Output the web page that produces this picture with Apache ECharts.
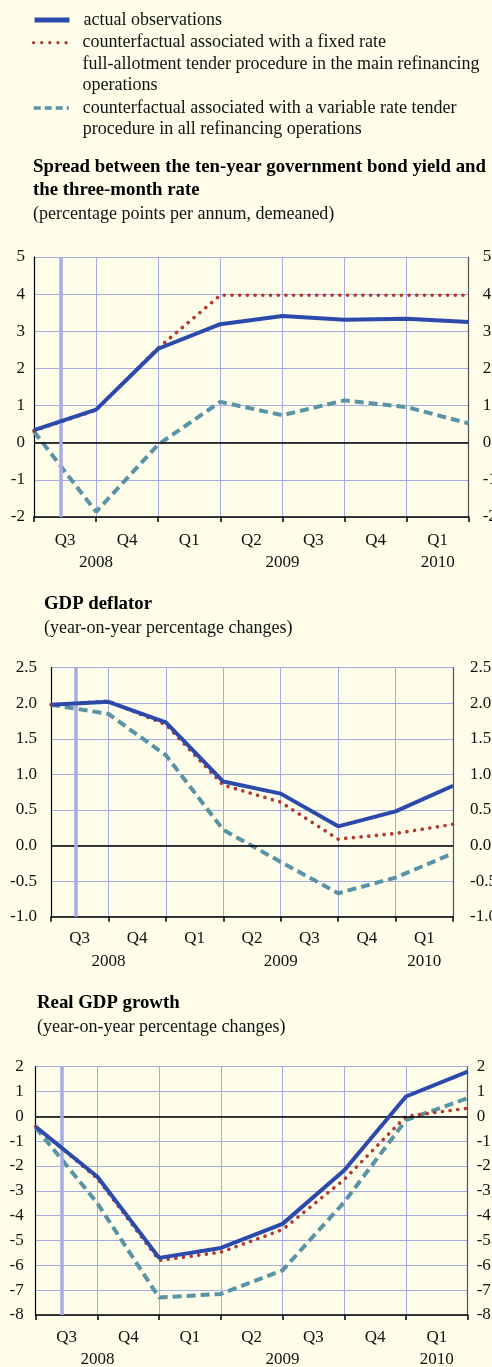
<!DOCTYPE html>
<html>
<head>
<meta charset="utf-8">
<script src="https://cdn.jsdelivr.net/npm/echarts@6/dist/echarts.min.js"></script>
<style>
html, body { margin: 0; padding: 0; background: #fdfde9; }
#chart { width: 492px; height: 1367px; }
</style>
</head>
<body>
<div id="chart"></div>
<script>
// time axis: points sit on quarter boundaries 0..7, quarter names sit between them
const QUARTERS = ['Q3', 'Q4', 'Q1', 'Q2', 'Q3', 'Q4', 'Q1'];
const YEARS = ['2008', '2009', '2010'];
const YEAR_POS = [1, 4, 6.5];
const MARKER_POS = 0.43;

const NAMES = [
	'actual observations',
	'counterfactual associated with a fixed rate\nfull-allotment tender procedure in the main refinancing\noperations',
	'counterfactual associated with a variable rate tender\nprocedure in all refinancing operations'
];

// spread between ten-year bond yield and three-month rate
const SPREAD_ACTUAL = [0.34, 0.89, 2.53, 3.19, 3.41, 3.31, 3.34, 3.25];
const SPREAD_FIXED = [0.32, 0.88, 2.55, 3.97, 3.97, 3.97, 3.97, 3.97];
const SPREAD_VARIABLE = [0.30, -1.86, -0.05, 1.10, 0.74, 1.14, 0.96, 0.52];
const SPREAD_TICKS = [-2, 5, 1];

// GDP deflator
const DEFL_ACTUAL = [1.98, 2.02, 1.73, 0.90, 0.73, 0.27, 0.48, 0.84];
const DEFL_FIXED = [1.98, 2.03, 1.70, 0.85, 0.61, 0.09, 0.17, 0.30];
const DEFL_VARIABLE = [1.98, 1.85, 1.27, 0.22, -0.23, -0.67, -0.45, -0.11];
const DEFL_TICKS = [-1, 2.5, 0.5];

// real GDP growth
const GDP_ACTUAL = [-0.42, -2.43, -5.70, -5.30, -4.33, -2.17, 0.80, 1.80];
const GDP_FIXED = [-0.40, -2.50, -5.80, -5.47, -4.56, -2.54, 0.00, 0.33];
const GDP_VARIABLE = [-0.45, -3.50, -7.30, -7.15, -6.20, -3.45, -0.15, 0.73];
const GDP_TICKS = [-8, 2, 1];

const FONT = '"Liberation Serif", "Times New Roman", serif';
const GRID_COLOR = '#a7abe4';
const LINE_STYLES = [
	{ color: '#2b4aab', width: 4, type: 'solid' },
	{ color: '#b33a2d', width: 3.6, type: [0.1, 7.6], cap: 'round' },
	{ color: '#5b93a6', width: 4, type: [9, 5] }
];
const LEGEND_LINES = [
	{ color: '#2b4aab', width: 5, type: 'solid' },
	{ color: '#b33a2d', width: 3.2, type: [0.1, 8], cap: 'round' },
	{ color: '#5b93a6', width: 3.5, type: [7, 4] }
];

let chart = echarts.init(document.getElementById('chart'), null, { renderer: 'canvas' });

let option = {
	backgroundColor: '#fdfde9',
	animation: false,
	textStyle: { fontFamily: FONT },
	title: [],
	legend: [],
	grid: [],
	xAxis: [],
	yAxis: [],
	series: []
};

const timeLabel = v => {
	let q = '';
	if (Math.abs(v - Math.floor(v) - 0.5) < 1e-6) {
		q = QUARTERS[Math.floor(v)] || '';
	}
	let y = '';
	YEAR_POS.forEach((p, i) => {
		if (Math.abs(p - v) < 1e-6) y = YEARS[i];
	});
	return (q || ' ') + '\n' + (y || ' ');
};

function addPanel(cfg){
	let gi = option.grid.length;
	option.grid.push(Object.assign({ containLabel: false, outerBoundsMode: 'none' }, cfg.grid));
	option.title.push({
		text: cfg.title,
		subtext: cfg.subtitle,
		left: cfg.titleLeft,
		top: cfg.titleTop,
		padding: 0,
		itemGap: 2,
		textStyle: { fontFamily: FONT, fontSize: 18.8, fontWeight: 'bold', color: '#000', lineHeight: 23.3 },
		subtextStyle: { fontFamily: FONT, fontSize: 18, color: '#111', lineHeight: 22 }
	});

	// boundaries: line, ticks and grid
	option.xAxis.push({
		type: 'value', gridIndex: gi, position: 'bottom', min: 0, max: QUARTERS.length, interval: 1,
		axisLine: { onZero: false, lineStyle: { color: '#000', width: 1.5 } },
		axisTick: { show: true, length: 5, lineStyle: { color: '#000', width: 1.5 } },
		axisLabel: { show: false },
		splitLine: { show: true, lineStyle: { color: GRID_COLOR, width: 1 } }
	});
	// quarter / year labels
	option.xAxis.push({
		type: 'value', gridIndex: gi, position: 'bottom', min: 0, max: QUARTERS.length, interval: 0.5,
		axisLine: { show: false, onZero: false }, axisTick: { show: false }, splitLine: { show: false },
		axisLabel: {
			margin: cfg.xMargin, showMinLabel: true, showMaxLabel: true,
			fontFamily: FONT, fontSize: 17, color: '#111', lineHeight: 22.5, verticalAlign: 'top',
			formatter: timeLabel
		}
	});

	let [ymin, ymax, ystep] = cfg.ticks;
	let fmt = v => cfg.decimals ? v.toFixed(cfg.decimals) : String(v);
	option.yAxis.push({
		type: 'value', gridIndex: gi, min: ymin, max: ymax, interval: ystep, position: 'left',
		axisLine: { show: true, onZero: false, lineStyle: { color: '#000', width: 1.2 } },
		axisTick: { show: false },
		splitLine: { show: true, lineStyle: { color: GRID_COLOR, width: 1 } },
		axisLabel: { margin: cfg.leftMargin, fontFamily: FONT, fontSize: 17, color: '#111', formatter: fmt }
	});
	option.yAxis.push({
		type: 'value', gridIndex: gi, min: ymin, max: ymax, interval: ystep, position: 'right',
		axisLine: { show: true, onZero: false, lineStyle: { color: '#555', width: 1.2 } },
		axisTick: { show: false },
		splitLine: { show: false },
		axisLabel: { margin: cfg.rightMargin, fontFamily: FONT, fontSize: 17, color: '#111', formatter: fmt }
	});

	let xi = gi * 2, yi = gi * 2;
	// zero line and the vertical event marker, kept beneath the lines
	option.series.push({
		type: 'line', xAxisIndex: xi, yAxisIndex: yi, data: [], z: 1, silent: true,
		markLine: {
			silent: true, symbol: 'none', label: { show: false }, animation: false,
			data: [
				{ yAxis: 0, lineStyle: { color: '#000', width: 1.5, type: 'solid' } },
				{ xAxis: MARKER_POS, lineStyle: { color: GRID_COLOR, width: 3.5, type: 'solid' } }
			]
		}
	});
	cfg.lines.forEach((vals, k) => {
		option.series.push({
			type: 'line', name: NAMES[k], xAxisIndex: xi, yAxisIndex: yi, z: 3 + (2 - k),
			symbol: 'none', showSymbol: false, silent: true,
			lineStyle: LINE_STYLES[k], itemStyle: { color: LINE_STYLES[k].color },
			data: vals.map((v, i) => [i, v])
		});
	});
}

addPanel({
	title: 'Spread between the ten-year government bond yield and\nthe three-month rate',
	subtitle: '(percentage points per annum, demeaned)',
	titleLeft: 33, titleTop: 155,
	grid: { left: 34, top: 257, width: 434.7, height: 260 },
	ticks: SPREAD_TICKS, decimals: 0, leftMargin: 9, rightMargin: 14, xMargin: 12,
	lines: [SPREAD_ACTUAL, SPREAD_FIXED, SPREAD_VARIABLE]
});
addPanel({
	title: 'GDP deflator',
	subtitle: '(year-on-year percentage changes)',
	titleLeft: 44, titleTop: 592,
	grid: { left: 51, top: 667.7, width: 402, height: 249 },
	ticks: DEFL_TICKS, decimals: 1, leftMargin: 14, rightMargin: 17, xMargin: 11,
	lines: [DEFL_ACTUAL, DEFL_FIXED, DEFL_VARIABLE]
});
addPanel({
	title: 'Real GDP growth',
	subtitle: '(year-on-year percentage changes)',
	titleLeft: 37, titleTop: 991,
	grid: { left: 35.7, top: 1066.7, width: 432, height: 248.3 },
	ticks: GDP_TICKS, decimals: 0, leftMargin: 12, rightMargin: 9, xMargin: 11,
	lines: [GDP_ACTUAL, GDP_FIXED, GDP_VARIABLE]
});

// legend: one component per entry so multi-line labels hang from the first line
const LH = 21.3;
const LEGEND_Y = [21.7, 41.7, 107];
NAMES.forEach((name, k) => {
	let n = name.split('\n').length;
	option.legend.push({
		left: 32, top: LEGEND_Y[k] - (n > 1 ? 8 : LH / 2),
		padding: 0, orient: 'vertical', itemWidth: 35, itemHeight: 14,
		selectedMode: false,
		itemStyle: { opacity: 0 },
		lineStyle: LEGEND_LINES[k],
		data: [{ name: name }],
		formatter: s => '{t|' + s + '}',
		textStyle: {
			padding: [(n - 1) * LH, 0, 0, 9],
			rich: { t: { fontFamily: FONT, fontSize: 18, color: '#111', lineHeight: LH } }
		}
	});
});

chart.setOption(option);
</script>
</body>
</html>
